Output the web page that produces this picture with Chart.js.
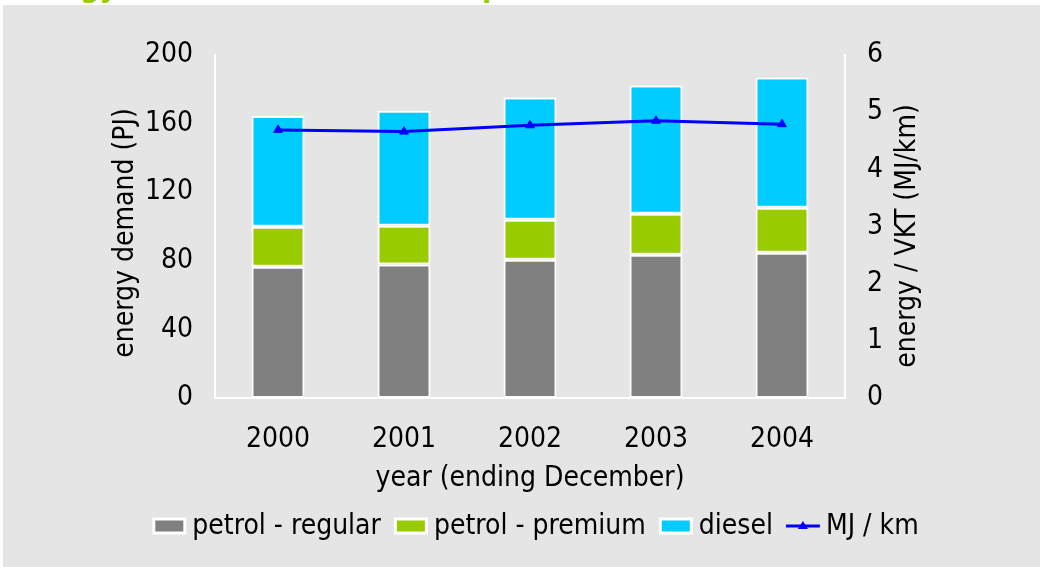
<!DOCTYPE html>
<html>
<head>
<meta charset="utf-8">
<script src="https://cdn.jsdelivr.net/npm/chart.js@4.4.1/dist/chart.umd.min.js"></script>
<style>
  html, body { margin: 0; padding: 0; background: #ffffff; }
  #wrap { position: relative; width: 1040px; height: 567px; overflow: hidden; }
  #title { position: absolute; left: 11px; top: -28px; line-height: 27px; white-space: nowrap; word-spacing: 3px;
           font: bold 27px "DejaVu Sans", Verdana, sans-serif; color: #99CC00; z-index: 0; }
  #c { position: absolute; left: 0; top: 0; z-index: 1; }
</style>
</head>
<body>
<div id="wrap">
  <div id="title">Energy demand for road transport</div>
  <canvas id="c" width="1040" height="567"></canvas>
</div>
<script>
// ---- data ----
const years = ['2000', '2001', '2002', '2003', '2004'];
const petrolRegular = [76.5, 77.9, 80.6, 83.5, 84.7];
const petrolPremium = [23.3, 22.5, 23.3, 23.9, 26.2];
const diesel = [64.6, 67.1, 71.3, 74.8, 76.0];
const mjPerKm = [4.69, 4.66, 4.77, 4.85, 4.79];
const leftTicks = [0, 40, 80, 120, 160, 200];
const rightTicks = [0, 1, 2, 3, 4, 5, 6];
const leftTitle = 'energy demand (PJ)';
const rightTitle = 'energy / VKT (MJ/km)';
const xTitle = 'year (ending December)';

const FONT_FAMILY = '"DejaVu Sans Condensed", "DejaVu Sans", Verdana, sans-serif';
const FONT_SIZE = 28;

const bgPlugin = {
  id: 'bg',
  beforeDraw(chart) {
    const ctx = chart.ctx;
    ctx.save();
    ctx.fillStyle = '#E5E5E5';
    ctx.fillRect(3, 5, chart.width - 3, chart.height - 5);
    ctx.restore();
  }
};

const vTitlePlugin = {
  id: 'vTitles',
  afterDraw(chart) {
    const ctx = chart.ctx;
    ctx.save();
    ctx.font = FONT_SIZE + 'px ' + FONT_FAMILY;
    ctx.fillStyle = '#000';
    ctx.textAlign = 'center';
    ctx.textBaseline = 'middle';
    [[leftTitle, 126, 233], [rightTitle, 908, 236]].forEach(([t, x, y]) => {
      ctx.save();
      ctx.translate(x, y);
      ctx.rotate(-Math.PI / 2);
      ctx.fillText(t, 0, 0);
      ctx.restore();
    });
    ctx.restore();
  }
};

const legendPlugin = {
  id: 'customLegend',
  afterDraw(chart) {
    const ctx = chart.ctx;
    const ds = chart.data.datasets;
    ctx.save();
    ctx.font = FONT_SIZE + 'px ' + FONT_FAMILY;
    ctx.textBaseline = 'middle';
    ctx.textAlign = 'left';
    const boxW = 34, boxH = 17, gapText = 6, gapItem = 13;
    const widths = ds.map(d => ctx.measureText(d.label).width);
    let total = 0;
    ds.forEach((d, i) => { total += boxW + gapText + widths[i]; });
    total += gapItem * (ds.length - 1);
    let x = 535.5 - total / 2;
    const y = 526;
    ds.forEach((d, i) => {
      if (d.type === 'line') {
        ctx.strokeStyle = d.borderColor;
        ctx.lineWidth = 3;
        ctx.beginPath();
        ctx.moveTo(x, y);
        ctx.lineTo(x + boxW, y);
        ctx.stroke();
        ctx.fillStyle = d.borderColor;
        ctx.beginPath();
        ctx.moveTo(x + boxW / 2, y - 5);
        ctx.lineTo(x + boxW / 2 + 5, y + 3);
        ctx.lineTo(x + boxW / 2 - 5, y + 3);
        ctx.closePath();
        ctx.fill();
      } else {
        ctx.fillStyle = '#ffffff';
        ctx.fillRect(x, y - boxH / 2, boxW, boxH);
        ctx.fillStyle = d.backgroundColor;
        ctx.fillRect(x + 3, y - boxH / 2 + 3, boxW - 6, boxH - 6);
      }
      ctx.fillStyle = '#000000';
      ctx.fillText(d.label, x + boxW + gapText, y + 1);
      x += boxW + gapText + widths[i] + gapItem;
    });
    ctx.restore();
  }
};

const barCommon = {
  type: 'bar',
  yAxisID: 'y',
  stack: 's',
  borderColor: '#ffffff',
  borderWidth: 2,
  borderSkipped: false,
  categoryPercentage: 1,
  barPercentage: 0.42,
  order: 1
};

new Chart(document.getElementById('c'), {
  data: {
    labels: years,
    datasets: [
      Object.assign({}, barCommon, { label: 'petrol - regular', data: petrolRegular, backgroundColor: '#808080' }),
      Object.assign({}, barCommon, { label: 'petrol - premium', data: petrolPremium, backgroundColor: '#99CC00' }),
      Object.assign({}, barCommon, { label: 'diesel', data: diesel, backgroundColor: '#00CCFF' }),
      {
        type: 'line', label: 'MJ / km', data: mjPerKm, yAxisID: 'y2',
        borderColor: '#0000FF', backgroundColor: '#0000FF', borderWidth: 3,
        pointStyle: 'triangle', pointRadius: 5, pointBackgroundColor: '#0000FF',
        pointBorderColor: '#0000FF', pointBorderWidth: 1, tension: 0, order: 0
      }
    ]
  },
  options: {
    responsive: false,
    animation: false,
    devicePixelRatio: 1,
    layout: { padding: { top: 55, left: 0, right: 0, bottom: 0 } },
    plugins: { legend: { display: false }, tooltip: { enabled: false }, title: { display: false } },
    scales: {
      x: {
        stacked: true,
        grid: { display: false, drawTicks: false },
        border: { display: true, color: '#ffffff', width: 2 },
        ticks: { color: '#000', font: { family: FONT_FAMILY, size: FONT_SIZE }, padding: 25 },
        title: { display: true, text: xTitle, color: '#000',
                 font: { family: FONT_FAMILY, size: FONT_SIZE }, padding: { top: 0, bottom: 71 } },
        afterFit(s) { s.height = 169; }
      },
      y: {
        position: 'left', stacked: true, min: 0, max: 200,
        afterBuildTicks(s) { s.ticks = leftTicks.map(v => ({ value: v })); },
        grid: { display: false, drawTicks: false },
        border: { display: true, color: '#ffffff', width: 2 },
        ticks: { color: '#000', font: { family: FONT_FAMILY, size: FONT_SIZE }, padding: 22 },
        title: { display: false },
        afterFit(s) { s.width = 215; }
      },
      y2: {
        position: 'right', min: 0, max: 6,
        afterBuildTicks(s) { s.ticks = rightTicks.map(v => ({ value: v })); },
        grid: { display: false, drawTicks: false },
        border: { display: true, color: '#ffffff', width: 2 },
        ticks: { color: '#000', font: { family: FONT_FAMILY, size: FONT_SIZE }, padding: 22 },
        title: { display: false },
        afterFit(s) { s.width = 195; }
      }
    }
  },
  plugins: [bgPlugin, vTitlePlugin, legendPlugin]
});
</script>
</body>
</html>
